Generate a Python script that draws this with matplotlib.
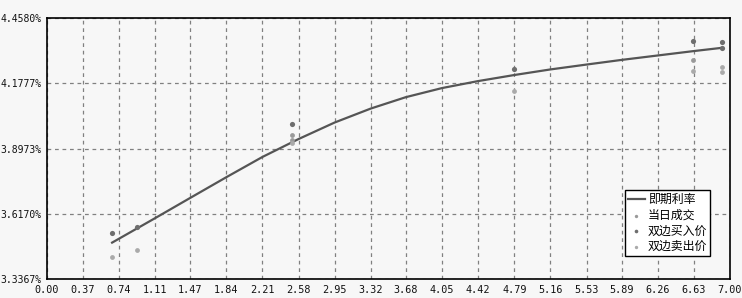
import matplotlib
matplotlib.use("Agg")
import matplotlib.pyplot as plt
import numpy as np

# Data
curve_x = [0.67, 0.93, 1.11, 1.47, 1.84, 2.21, 2.58, 2.95, 3.32, 3.68, 4.05, 4.42, 4.79, 5.16, 5.53, 5.89, 6.26, 6.63, 6.92]
curve_y = [3.493, 3.555, 3.598, 3.685, 3.774, 3.861, 3.938, 4.009, 4.069, 4.118, 4.157, 4.187, 4.213, 4.237, 4.258, 4.278, 4.297, 4.316, 4.330]

trade_x = [2.51, 2.51, 6.62]
trade_y = [3.955, 3.935, 4.278]

bid_x = [0.67, 0.93, 2.51, 4.79, 6.62, 6.92, 6.92]
bid_y = [3.533, 3.559, 4.003, 4.239, 4.360, 4.356, 4.329]

ask_x = [0.67, 0.93, 2.51, 4.79, 6.62, 6.92, 6.92]
ask_y = [3.433, 3.461, 3.921, 4.146, 4.230, 4.249, 4.227]

xticks = [0.00, 0.37, 0.74, 1.11, 1.47, 1.84, 2.21, 2.58, 2.95, 3.32, 3.68, 4.05, 4.42, 4.79, 5.16, 5.53, 5.89, 6.26, 6.63, 7.00]
yticks = [3.3367, 3.6170, 3.8973, 4.1777, 4.4580]
series_names = ["即期利率", "当日成交", "双边买入价", "双边卖出价"]

plt.rcParams['font.family'] = ['Noto Sans CJK SC', 'DejaVu Sans']

fig = plt.figure(figsize=(7.42, 2.98), dpi=100, facecolor="#f7f7f7")
ax = fig.add_axes([46.7/742, 1-279/298, (730-46.7)/742, (279-18)/298])
ax.set_facecolor("#f7f7f7")

ax.plot(curve_x, curve_y, color="#555555", lw=1.6, label=series_names[0], zorder=3)
ax.scatter(trade_x, trade_y, s=12, color="#9a9a9a", marker="o", label=series_names[1], zorder=4, linewidths=0)
ax.scatter(bid_x, bid_y, s=14, color="#6e6e6e", marker="o", label=series_names[2], zorder=4, linewidths=0)
ax.scatter(ask_x, ask_y, s=12, color="#aaaaaa", marker="o", label=series_names[3], zorder=4, linewidths=0)

ax.set_xlim(0, 7)
ax.set_ylim(yticks[0], yticks[-1])
ax.set_xticks(xticks)
ax.set_xticklabels([f"{v:.2f}" for v in xticks], family="DejaVu Sans Mono", fontsize=7.3)
ax.set_yticks(yticks)
ax.set_yticklabels([f"{v:.4f}%" for v in yticks], family="DejaVu Sans Mono", fontsize=7)
ax.tick_params(axis="y", length=0, pad=3.5, colors="#111111")
ax.tick_params(axis="x", length=0, pad=4, colors="#111111")
ax.grid(True, color="#808080", linestyle=(0, (3, 3)), linewidth=0.9)
for s in ax.spines.values():
    s.set_color("black")
    s.set_linewidth(1.2)

leg = ax.legend(loc="lower left", bbox_to_anchor=(0.846, 0.088), borderaxespad=0,
                fancybox=False, edgecolor="black", framealpha=1, facecolor="white",
                fontsize=8.6, handlelength=1.45, handletextpad=0.25, labelspacing=0.22,
                borderpad=0.25, markerscale=0.7)
leg.get_frame().set_linewidth(1.0)

fig.savefig("out.png", dpi=100, facecolor=fig.get_facecolor())
